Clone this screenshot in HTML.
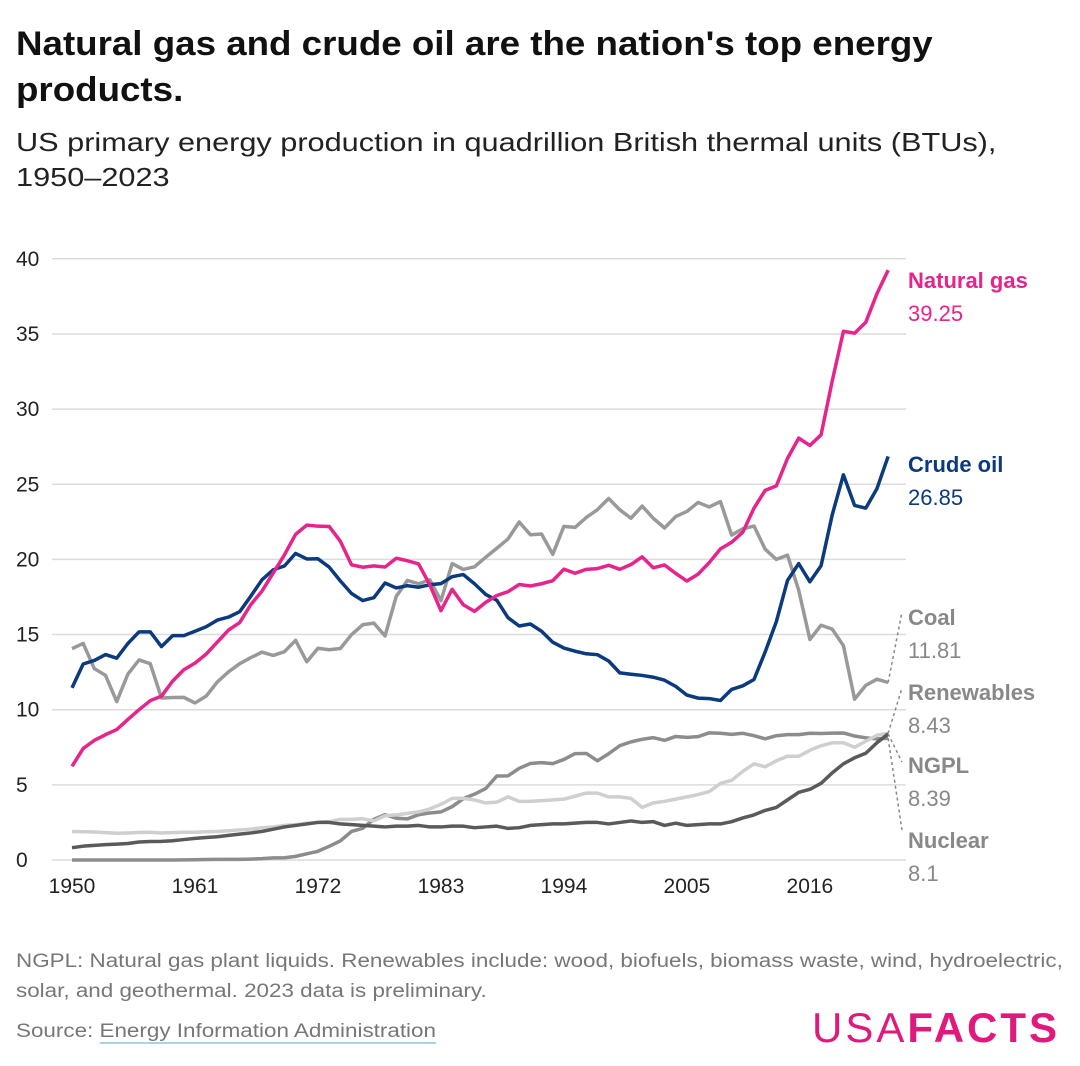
<!DOCTYPE html>
<html><head><meta charset="utf-8"><style>
body{margin:0;background:#fff;font-family:"Liberation Sans",sans-serif;}
#wrap{position:relative;width:1080px;height:1066px;overflow:hidden;}
.t{position:absolute;white-space:nowrap;transform-origin:left top;}
</style></head><body>
<div id="wrap">
<div class="t" style="left:16px;top:21px;font-size:34px;font-weight:bold;line-height:46px;color:#111;transform:scaleX(1.08);">Natural gas and crude oil are the nation's top energy<br>products.</div>
<div class="t" style="left:16px;top:125px;font-size:26px;line-height:35px;color:#222;transform:scaleX(1.18);">US primary energy production in quadrillion British thermal units (BTUs),<br>1950–2023</div>
<svg id="chart" width="1080" height="1066" style="position:absolute;left:0;top:0"></svg>
<div class="t" style="left:16px;top:947px;font-size:19px;line-height:30px;color:#777;transform:scaleX(1.18);">NGPL: Natural gas plant liquids. Renewables include: wood, biofuels, biomass waste, wind, hydroelectric,<br>solar, and geothermal. 2023 data is preliminary.</div>
<div class="t" style="left:16px;top:1021px;font-size:19px;color:#777;transform:scaleX(1.18);">Source: <span style="border-bottom:2px solid #a9d4e8;">Energy Information Administration</span></div>
<div class="t" style="left:812px;top:1004px;font-size:42px;color:#e0197d;letter-spacing:3px;"><span style="font-weight:300">USA</span><span style="font-weight:bold">FACTS</span></div>
</div>
<script>
const years=[];for(let y=1950;y<=2023;y++)years.push(y);
const xTicks=[1950,1961,1972,1983,1994,2005,2016];
const yTicks=[0,5,10,15,20,25,30,35,40];
const natGas=[6.23,7.42,7.96,8.34,8.68,9.35,10.0,10.6,10.9,11.9,12.66,13.1,13.7,14.5,15.3,15.8,17.0,17.9,19.1,20.3,21.67,22.28,22.21,22.19,21.21,19.64,19.48,19.57,19.49,20.08,19.91,19.7,18.32,16.59,18.01,16.98,16.54,17.14,17.6,17.85,18.33,18.23,18.38,18.58,19.35,19.08,19.34,19.39,19.61,19.34,19.66,20.17,19.44,19.63,19.07,18.56,19.02,19.79,20.7,21.14,21.81,23.41,24.59,24.89,26.72,28.07,27.58,28.29,31.88,35.18,35.05,35.78,37.68,39.25];
const crudeOil=[11.45,13.04,13.28,13.67,13.43,14.41,15.18,15.18,14.2,14.93,14.93,15.22,15.52,15.96,16.16,16.52,17.56,18.65,19.31,19.56,20.4,20.03,20.04,19.49,18.57,17.73,17.26,17.45,18.43,18.1,18.25,18.15,18.31,18.39,18.85,18.99,18.38,17.67,17.28,16.12,15.57,15.7,15.22,14.49,14.1,13.89,13.72,13.66,13.24,12.45,12.36,12.28,12.16,11.96,11.55,10.97,10.77,10.74,10.61,11.35,11.59,12.01,13.84,15.86,18.6,19.72,18.51,19.58,22.97,25.63,23.59,23.41,24.71,26.85];
const coal=[14.06,14.41,12.73,12.28,10.54,12.37,13.31,13.06,10.78,10.81,10.82,10.45,10.9,11.85,12.52,13.06,13.47,13.83,13.61,13.86,14.61,13.19,14.09,13.99,14.07,14.99,15.65,15.76,14.91,17.54,18.6,18.38,18.64,17.25,19.72,19.33,19.51,20.14,20.74,21.36,22.49,21.64,21.69,20.34,22.2,22.13,22.79,23.31,24.05,23.3,22.74,23.55,22.73,22.09,22.85,23.19,23.79,23.49,23.85,21.62,22.04,22.22,20.68,20.0,20.28,17.95,14.67,15.62,15.36,14.26,10.7,11.62,12.03,11.81];
const renewables=[1.9,1.88,1.86,1.82,1.78,1.8,1.83,1.85,1.8,1.82,1.85,1.85,1.88,1.9,1.95,2.0,2.05,2.15,2.2,2.3,2.35,2.45,2.5,2.55,2.7,2.7,2.75,2.6,2.95,3.0,3.1,3.2,3.4,3.7,4.1,4.1,4.0,3.8,3.85,4.2,3.9,3.9,3.95,4.0,4.05,4.25,4.45,4.45,4.2,4.2,4.1,3.5,3.8,3.9,4.05,4.2,4.35,4.55,5.1,5.3,5.9,6.4,6.2,6.6,6.9,6.9,7.3,7.6,7.8,7.8,7.5,7.9,8.3,8.43];
const ngpl=[0.82,0.92,0.97,1.02,1.06,1.1,1.2,1.23,1.24,1.28,1.36,1.44,1.5,1.55,1.64,1.72,1.8,1.9,2.05,2.2,2.3,2.4,2.5,2.5,2.4,2.35,2.3,2.25,2.2,2.25,2.25,2.3,2.2,2.2,2.25,2.25,2.15,2.2,2.25,2.1,2.15,2.3,2.35,2.4,2.4,2.45,2.5,2.5,2.4,2.5,2.6,2.5,2.55,2.3,2.45,2.3,2.35,2.4,2.4,2.55,2.8,3.0,3.3,3.5,4.0,4.5,4.7,5.1,5.8,6.4,6.8,7.1,7.8,8.39];
const nuclear=[0,0,0,0,0,0,0,0,0,0,0.01,0.02,0.03,0.04,0.04,0.04,0.06,0.09,0.14,0.15,0.24,0.41,0.58,0.91,1.27,1.9,2.11,2.7,3.02,2.78,2.74,3.01,3.13,3.2,3.55,4.08,4.38,4.75,5.59,5.6,6.1,6.42,6.48,6.41,6.69,7.08,7.09,6.6,7.07,7.61,7.86,8.03,8.14,7.96,8.22,8.16,8.21,8.46,8.43,8.36,8.43,8.27,8.06,8.27,8.34,8.34,8.43,8.42,8.44,8.45,8.25,8.13,8.06,8.1];
const NS="http://www.w3.org/2000/svg";
const svg=document.getElementById('chart');
const X=y=>72+(y-1950)*11.18;
const Y=v=>860-v*15.03;
function mk(tag,at,parent){const e=document.createElementNS(NS,tag);for(const k in at)e.setAttribute(k,at[k]);(parent||svg).appendChild(e);return e;}
yTicks.forEach(v=>{
  const g=mk('line',{x1:52,x2:906,y1:Y(v),y2:Y(v),stroke:'#dcdcdc','stroke-width':1.5});
  
  
  const t=mk('text',{x:16,y:Y(v)+7,'font-size':21,fill:'#222'});t.textContent=v;
  
  
});
xTicks.forEach(yr=>{
  const t=mk('text',{x:X(yr),y:893,'font-size':21,fill:'#222','text-anchor':'middle'});t.textContent=yr;
  
  
});
const series=[
 ['nuclear-line',nuclear,'#8c8c8c'],
 ['renewables-line',renewables,'#cfcfcf'],
 ['ngpl-line',ngpl,'#5a5a5a'],
 ['coal-line',coal,'#999999'],
 ['crude-oil-line',crudeOil,'#0b3a7e'],
 ['natural-gas-line',natGas,'#e5248c']];
series.forEach(([n,d,c])=>{
  const p=mk('polyline',{points:d.map((v,i)=>X(years[i])+','+Y(v)).join(' '),fill:'none',stroke:c,'stroke-width':3.5,'stroke-linejoin':'round'});
  
  
});
const lx=X(2023);
const leaders=[[coal,612],[renewables,688],[ngpl,762],[nuclear,830]];
leaders.forEach(([d,ty])=>{
  const l=mk('line',{x1:lx,y1:Y(d[d.length-1]),x2:902,y2:ty,stroke:'#888','stroke-width':1.5,'stroke-dasharray':'3,3'});
  
  
});
const labels=[['Natural gas',natGas,'#e5248c',288],['Crude oil',crudeOil,'#0b3a7e',472],['Coal',coal,'#888',625],['Renewables',renewables,'#888',700],['NGPL',ngpl,'#888',773],['Nuclear',nuclear,'#888',848]];
labels.forEach(([n,d,c,ty])=>{
  const a=mk('text',{x:908,y:ty,'font-size':22,'font-weight':'bold',fill:c});a.textContent=n;
  
  
  const b=mk('text',{x:908,y:ty+33,'font-size':22,fill:c});b.textContent=d[d.length-1];
  
  
});
</script>
</body></html>
